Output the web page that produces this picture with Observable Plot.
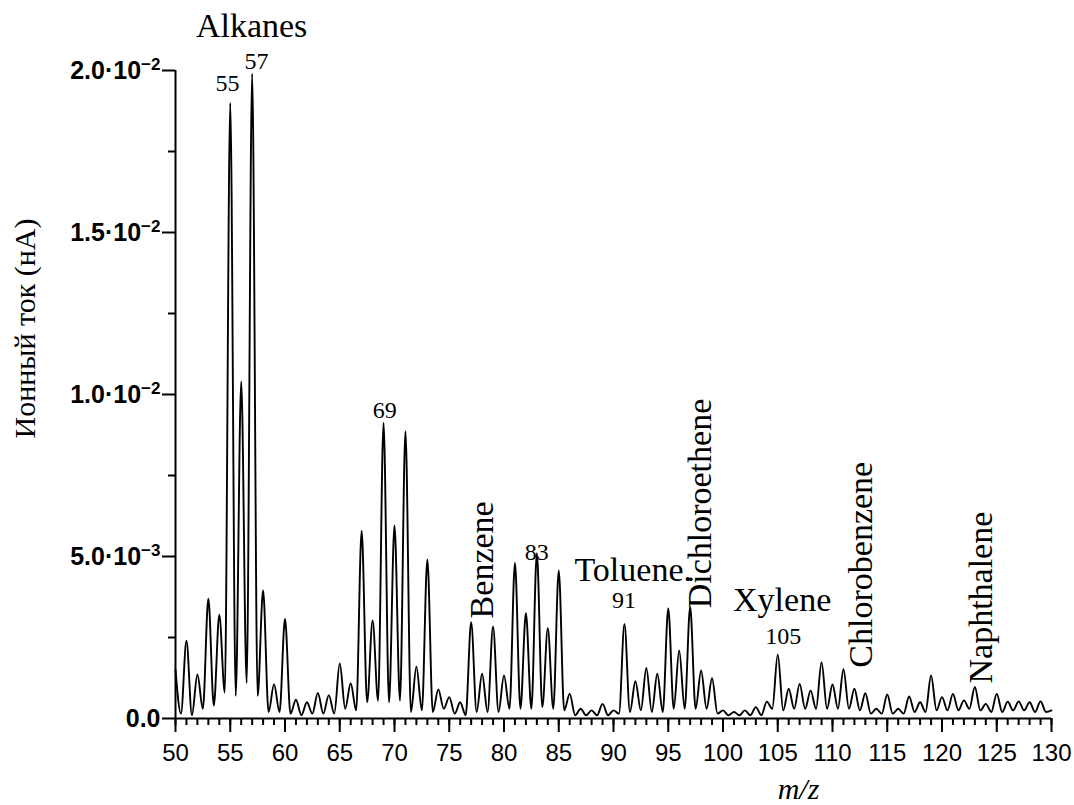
<!DOCTYPE html>
<html><head><meta charset="utf-8">
<script src="https://cdn.jsdelivr.net/npm/d3@7"></script>
<script src="https://cdn.jsdelivr.net/npm/@observablehq/plot@0.6"></script>
<style>body{margin:0;background:#fff}</style>
</head><body><div id="chart"></div>
<script>
// ion current, in units of 1e-3 nA
const mzStart = 50;
// peak maxima at integer m/z 50..130
const peakHeights = [
  1.5, 2.4, 1.36, 3.7, 3.2, 19.0, 10.4, 19.9, 3.95, 1.06,
  3.07, 0.58, 0.5, 0.79, 0.72, 1.7, 1.09, 5.8, 3.03, 9.13,
  5.96, 8.87, 1.6, 4.91, 0.9, 0.66, 0.5, 2.97, 1.38, 2.84,
  1.33, 4.8, 3.25, 5.1, 2.79, 4.57, 0.76, 0.3, 0.25, 0.45,
  0.25, 2.92, 1.15, 1.56, 1.38, 3.4, 2.1, 3.44, 1.48, 1.24,
  0.25, 0.2, 0.25, 0.35, 0.52, 1.98, 0.92, 1.07, 0.86, 1.74,
  1.05, 1.52, 0.92, 0.78, 0.3, 0.74, 0.3, 0.68, 0.5, 1.33,
  0.66, 0.76, 0.56, 0.97, 0.45, 0.76, 0.52, 0.53, 0.5, 0.53,
  0.25
];
// minima between peaks, at m/z 50.5..129.5
const valleyHeights = [
  0.15, 0.1, 0.3, 0.4, 0.8, 0.7, 1.1, 0.7, 0.2, 0.2,
  0.15, 0.1, 0.15, 0.15, 0.15, 0.3, 0.25, 0.5, 0.55, 0.5,
  0.55, 0.2, 0.25, 0.2, 0.3, 0.15, 0.1, 0.2, 0.2, 0.2,
  0.3, 0.3, 0.3, 0.35, 0.3, 0.25, 0.1, 0.1, 0.1, 0.1,
  0.15, 0.2, 0.25, 0.2, 0.2, 0.3, 0.3, 0.3, 0.3, 0.15,
  0.1, 0.1, 0.1, 0.1, 0.3, 0.25, 0.3, 0.3, 0.3, 0.3,
  0.3, 0.3, 0.25, 0.15, 0.15, 0.15, 0.15, 0.2, 0.2, 0.25,
  0.25, 0.25, 0.3, 0.25, 0.2, 0.2, 0.25, 0.25, 0.2, 0.2
];

const xMajorTicks = [50,55,60,65,70,75,80,85,90,95,100,105,110,115,120,125,130];
const xMinorTicks = [50,51,52,53,54,55,56,57,58,59,60,61,62,63,64,65,66,67,68,69,70,71,72,73,74,75,76,77,78,79,80,81,82,83,84,85,86,87,88,89,90,91,92,93,94,95,96,97,98,99,100,101,102,103,104,105,106,107,108,109,110,111,112,113,114,115,116,117,118,119,120,121,122,123,124,125,126,127,128,129,130];
const yMajorTicks = [0, 0.005, 0.01, 0.015, 0.02];
const yTickLabels = ["0.0", "5.0·10|−3", "1.0·10|−2", "1.5·10|−2", "2.0·10|−2"];
const yMinorTicks = [0.0025, 0.0075, 0.0125, 0.0175];

// peak number labels (m/z, height ×1e-3)
const numLabels = ["55", "57", "69", "83", "91", "105"];
const numX = [54.75, 57.4, 69.1, 83.0, 90.95, 105.5];
const numY = [19.38, 20.06, 9.26, 4.88, 3.42, 2.31];
// horizontal compound labels
const hLabels = ["Alkanes", "Toluene.", "Xylene"];
const hX = [56.95, 91.8, 105.4];
const hY = [21.02, 4.25, 3.33];
// vertical compound labels
const vLabels = ["Benzene", "Dichloroethene", "Chlorobenzene", "Naphthalene"];
const vX = [78.98, 98.9, 113.6, 124.6];
const vY = [3.09, 3.40, 1.57, 1.08];

const points = [];
peakHeights.forEach((h, i) => {
  points.push({mz: mzStart + i, v: h * 1e-3});
  if (i < valleyHeights.length) points.push({mz: mzStart + i + 0.5, v: valleyHeights[i] * 1e-3});
});
const nums = numLabels.map((t, i) => ({t, x: numX[i], y: numY[i] * 1e-3}));
const hs = hLabels.map((t, i) => ({t, x: hX[i], y: hY[i] * 1e-3}));
const vs = vLabels.map((t, i) => ({t, x: vX[i], y: vY[i] * 1e-3}));

const serif = "'Liberation Serif', 'Times New Roman', Times, 'DejaVu Serif', serif";
const sans = "'Liberation Sans', Arial, Helvetica, sans-serif";

const chart = Plot.plot({
  width: 1074,
  height: 805,
  marginLeft: 175,
  marginRight: 23,
  marginTop: 70,
  marginBottom: 87,
  style: {background: "#fff", color: "#000", fontFamily: sans},
  x: {domain: [50, 130], label: null},
  y: {domain: [0, 0.02], label: null},
  marks: [
    Plot.axisX({ticks: xMinorTicks, tickSize: 7, tickFormat: () => "", strokeWidth: 2, label: null}),
    Plot.axisX({ticks: xMajorTicks, tickSize: 14, tickPadding: 11, fontSize: 24, fontFamily: sans, strokeWidth: 2, label: null}),
    Plot.axisY({ticks: yMinorTicks, tickSize: 7, tickFormat: () => "", strokeWidth: 2, label: null}),
    Plot.axisY({ticks: yMajorTicks, tickSize: 13, tickPadding: 2, fontSize: 25, fontWeight: "bold", fontFamily: sans,
      tickFormat: d => yTickLabels[yMajorTicks.indexOf(d)], strokeWidth: 2, label: null}),
    Plot.ruleX([50], {y1: 0, y2: 0.02, strokeWidth: 2}),
    Plot.ruleY([0], {strokeWidth: 2}),
    Plot.line(points, {x: "mz", y: "v", curve: "monotone-x", stroke: "#000", strokeWidth: 1.9}),
    Plot.text(nums, {x: "x", y: "y", text: "t", fontSize: 24, fontFamily: serif, lineAnchor: "bottom", textAnchor: "middle"}),
    Plot.text(hs, {x: "x", y: "y", text: "t", fontSize: 34, fontFamily: serif, lineAnchor: "bottom", textAnchor: "middle"}),
    Plot.text(vs, {x: "x", y: "y", text: "t", fontSize: 34, fontFamily: serif, lineAnchor: "bottom", textAnchor: "start", rotate: -90}),
    Plot.text(["Ионный ток (нА)"], {frameAnchor: "left", dx: -141, dy: -66, rotate: -90, fontSize: 30, fontFamily: serif, lineAnchor: "bottom", textAnchor: "middle"}),
    Plot.text(["m/z"], {frameAnchor: "bottom", dx: 185, dy: 80, fontSize: 30, fontStyle: "italic", fontFamily: serif, lineAnchor: "bottom", textAnchor: "middle"})
  ]
});

chart.querySelectorAll('[aria-label="y-axis tick label"] text').forEach(t => {
  const s = t.textContent;
  if (!s.includes("|")) return;
  const [b, e] = s.split("|");
  t.textContent = b;
  const ts = document.createElementNS("http://www.w3.org/2000/svg", "tspan");
  ts.setAttribute("dy", "-0.5em");
  ts.setAttribute("font-size", "17");
  ts.textContent = e;
  t.appendChild(ts);
});

document.getElementById("chart").appendChild(chart);
</script>
</body></html>
